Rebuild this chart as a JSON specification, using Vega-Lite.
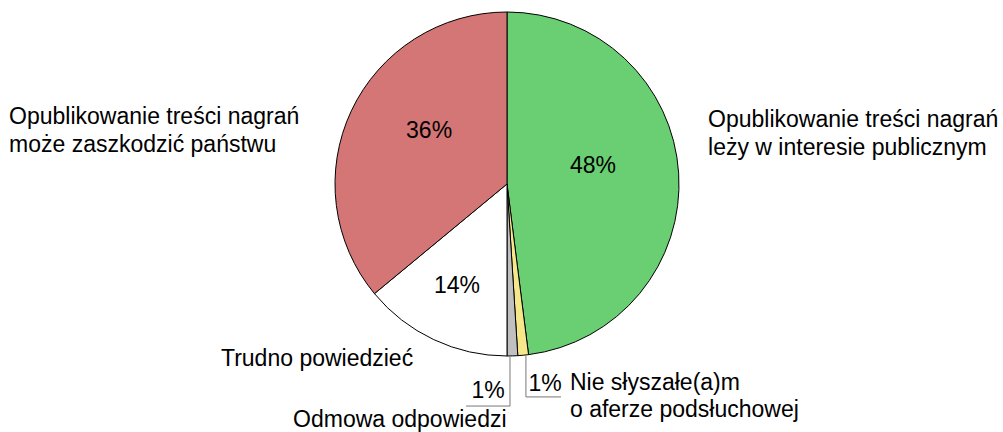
{
  "$schema": "https://vega.github.io/schema/vega-lite/v6.json",
  "width": 1003,
  "height": 432,
  "padding": 0,
  "autosize": {"type": "none"},
  "background": "white",
  "config": {"view": {"stroke": null}, "font": "Liberation Sans"},
  "datasets": {
    "slices": [
      {"label": "Opublikowanie treści nagrań leży w interesie publicznym", "pct": 48, "order": 1},
      {"label": "Nie słyszałe(a)m o aferze podsłuchowej", "pct": 1, "order": 2},
      {"label": "Odmowa odpowiedzi", "pct": 1, "order": 3},
      {"label": "Trudno powiedzieć", "pct": 14, "order": 4},
      {"label": "Opublikowanie treści nagrań może zaszkodzić państwu", "pct": 36, "order": 5}
    ],
    "pctLabels": [
      {"text": "48%", "u": 50.0, "v": 10.5},
      {"text": "36%", "u": -45.3, "v": 30.8},
      {"text": "14%", "u": -29.1, "v": -59.3},
      {"text": "1%", "u": -11.0, "v": -120.3},
      {"text": "1%", "u": 22.1, "v": -116.3}
    ],
    "catLabels": [
      {"text": "Opublikowanie treści nagrań", "u": 116.9, "v": 37.2},
      {"text": "leży w interesie publicznym", "u": 116.9, "v": 20.9},
      {"text": "Opublikowanie treści nagrań", "u": -289.5, "v": 39.0},
      {"text": "może zaszkodzić państwu", "u": -289.5, "v": 22.7},
      {"text": "Trudno powiedzieć", "u": -166.3, "v": -101.7},
      {"text": "Odmowa odpowiedzi", "u": -124.4, "v": -137.2},
      {"text": "Nie słyszałe(a)m", "u": 36.6, "v": -115.7},
      {"text": "o aferze podsłuchowej", "u": 36.6, "v": -131.4}
    ],
    "leaders": [
      {"u": 1.74, "v": -100.6, "u2": 1.74, "v2": -129.1},
      {"u": -23.8, "v": -129.1, "u2": 1.74, "v2": -129.1},
      {"u": 11.0, "v": -100.0, "u2": 11.0, "v2": -123.8},
      {"u": 11.0, "v": -123.8, "u2": 31.4, "v2": -123.8}
    ]
  },
  "layer": [
    {
      "data": {"name": "slices"},
      "mark": {"type": "arc", "outerRadius": 172, "stroke": "black", "strokeWidth": 1},
      "encoding": {
        "theta": {"field": "pct", "type": "quantitative", "stack": true},
        "order": {"field": "order", "type": "quantitative"},
        "color": {
          "field": "label",
          "type": "nominal",
          "legend": null,
          "scale": {
            "domain": [
              "Opublikowanie treści nagrań leży w interesie publicznym",
              "Nie słyszałe(a)m o aferze podsłuchowej",
              "Odmowa odpowiedzi",
              "Trudno powiedzieć",
              "Opublikowanie treści nagrań może zaszkodzić państwu"
            ],
            "range": ["#69cf72", "#f7e78b", "#c0c0c0", "#ffffff", "#d47675"]
          }
        },
        "x": {"datum": 0, "type": "quantitative", "scale": {"domain": [-294.77, 288.37]}, "axis": null},
        "y": {"datum": 0, "type": "quantitative", "scale": {"domain": [-144.19, 106.98]}, "axis": null}
      }
    },
    {
      "data": {"name": "leaders"},
      "mark": {"type": "rule", "color": "#777777", "strokeWidth": 1},
      "encoding": {
        "x": {"field": "u", "type": "quantitative", "scale": {"domain": [-294.77, 288.37]}, "axis": null},
        "y": {"field": "v", "type": "quantitative", "scale": {"domain": [-144.19, 106.98]}, "axis": null},
        "x2": {"field": "u2"},
        "y2": {"field": "v2"}
      }
    },
    {
      "data": {"name": "pctLabels"},
      "mark": {"type": "text", "align": "center", "baseline": "middle", "fontSize": 23, "color": "black"},
      "encoding": {
        "x": {"field": "u", "type": "quantitative", "scale": {"domain": [-294.77, 288.37]}, "axis": null},
        "y": {"field": "v", "type": "quantitative", "scale": {"domain": [-144.19, 106.98]}, "axis": null},
        "text": {"field": "text"}
      }
    },
    {
      "data": {"name": "catLabels"},
      "mark": {"type": "text", "align": "left", "baseline": "middle", "fontSize": 23, "color": "black"},
      "encoding": {
        "x": {"field": "u", "type": "quantitative", "scale": {"domain": [-294.77, 288.37]}, "axis": null},
        "y": {"field": "v", "type": "quantitative", "scale": {"domain": [-144.19, 106.98]}, "axis": null},
        "text": {"field": "text"}
      }
    }
  ]
}
